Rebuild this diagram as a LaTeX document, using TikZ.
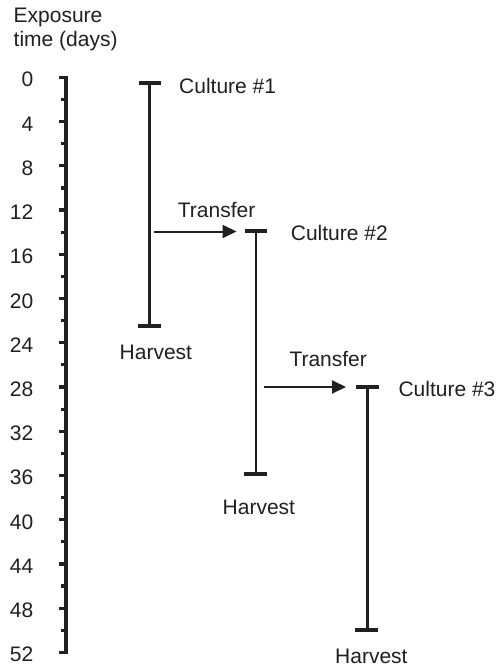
\documentclass[tikz,border=0pt]{standalone}
\usepackage{fontspec}
\setmainfont{Liberation Sans}
\usetikzlibrary{arrows.meta}
\definecolor{ink}{HTML}{231F20}
\begin{document}
\begin{tikzpicture}[x=1pt,y=-1pt,
  lbl/.style={inner sep=0pt,text=ink,font=\fontsize{21}{25}\selectfont},
  axisline/.style={draw=ink,line width=4.4pt},
  majortick/.style={draw=ink,line width=3.2pt},
  minortick/.style={draw=ink,line width=3.2pt},
  barline/.style={draw=ink,line width=2.4pt},
  capline/.style={draw=ink,line width=4pt},
  arr/.style={draw=ink,line width=2pt,-{Triangle[length=14pt,width=13pt]}}]
\useasboundingbox[fill=white] (0,0) rectangle (500,666);
% axis title
\node[lbl,anchor=base west] (t1) at (13.5,22.7) {Exposure};
\node[lbl,anchor=base west] (t2) at (13.5,47) {time (days)};
% axis
\coordinate (atop) at (65.7,75.7);
\coordinate (abot) at (65.7,654.2);
\draw[axisline] (atop) -- (abot);
\foreach \d in {0,4,...,52}{
  \coordinate (mt\d) at (58.5,{77.3+11.06*\d});
  \coordinate (ma\d) at (65.7,{77.3+11.06*\d});
  \draw[majortick] (mt\d) -- (ma\d);
  \node[lbl,anchor=base east] (n\d) at (33.5,{77.3+11.06*\d+9.5}) {\d};
}
\foreach \d in {2,6,...,50}{
  \coordinate (st\d) at (61,{77.3+11.06*\d});
  \coordinate (sa\d) at (65.7,{77.3+11.06*\d});
  \draw[minortick] (st\d) -- (sa\d);
}
% culture 1
\coordinate (c1t) at (149.3,83.3);
\coordinate (c1b) at (149.3,325.7);
\draw[barline] (c1t) -- (c1b);
\draw[capline] ([xshift=-10.8pt]c1t) -- ([xshift=11.2pt]c1t);
\draw[capline] ([xshift=-11.6pt]c1b) -- ([xshift=11.2pt]c1b);
\node[lbl,anchor=base west] (cul1) at (179,93.3) {Culture \#1};
\node[lbl,anchor=base west] (h1) at (119.5,359.3) {Harvest};
% transfer 1
\coordinate (a1s) at (154,231.5);
\coordinate (a1e) at (236.5,231.5);
\draw[arr] (a1s) -- (a1e);
\node[lbl,anchor=base west] (tr1) at (177.7,217.7) {Transfer};
% culture 2
\coordinate (c2t) at (255.7,231.3);
\coordinate (c2b) at (255.7,474);
\draw[barline] (c2t) -- (c2b);
\draw[capline] ([xshift=-10.8pt]c2t) -- ([xshift=11pt]c2t);
\draw[capline] ([xshift=-11.6pt]c2b) -- ([xshift=11pt]c2b);
\node[lbl,anchor=base west] (cul2) at (290.7,240) {Culture \#2};
\node[lbl,anchor=base west] (h2) at (222.5,514.3) {Harvest};
% transfer 2
\coordinate (a2s) at (264,387);
\coordinate (a2e) at (346,387);
\draw[arr] (a2s) -- (a2e);
\node[lbl,anchor=base west] (tr2) at (289.3,366) {Transfer};
% culture 3
\coordinate (c3t) at (367.3,387.3);
\coordinate (c3b) at (367.3,630.3);
\draw[barline] (c3t) -- (c3b);
\draw[capline] ([xshift=-11.3pt]c3t) -- ([xshift=11.7pt]c3t);
\draw[capline] ([xshift=-12.3pt]c3b) -- ([xshift=10.7pt]c3b);
\node[lbl,anchor=base west] (cul3) at (398.3,396.5) {Culture \#3};
\node[lbl,anchor=base west] (h3) at (335,663) {Harvest};
\end{tikzpicture}
\end{document}
